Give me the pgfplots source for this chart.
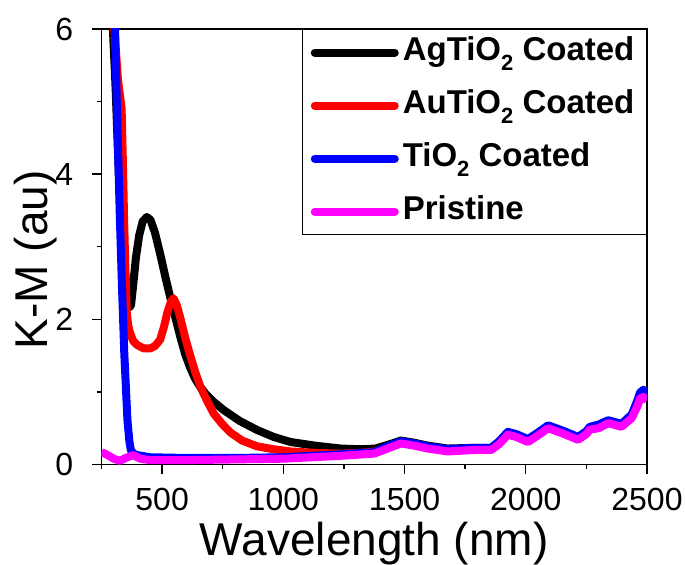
\documentclass[border=0pt]{standalone}
\usepackage{fontspec}
\setmainfont{Liberation Sans}
\usepackage{pgfplots}
\pgfplotsset{compat=1.18}
\usetikzlibrary{calc}
\definecolor{mag}{RGB}{255,0,255}
\newcommand{\sub}[1]{\raisebox{-0.55ex}{\fontsize{11}{11}\selectfont #1}}

% K-M spectra, values
\pgfplotstableread{
x y
250 11.0
280 7.5
297 6.0
308 5.2
318 4.3
328 3.5
340 2.85
350 2.50
360 2.25
366 2.17
372 2.20
380 2.45
392 2.85
405 3.15
420 3.35
437 3.41
452 3.37
470 3.20
490 2.93
513 2.59
533 2.31
555 2.02
575 1.76
595 1.52
615 1.34
635 1.19
655 1.08
680 0.97
710 0.87
754 0.75
820 0.60
892 0.475
960 0.38
1030 0.31
1130 0.26
1237 0.22
1320 0.21
1380 0.22
1430 0.27
1485 0.33
1540 0.30
1595 0.26
1678 0.22
1788 0.23
1857 0.23
1890 0.30
1926 0.44
1960 0.40
2009 0.33
2050 0.42
2092 0.52
2150 0.45
2216 0.36
2250 0.44
2264 0.50
2300 0.52
2340 0.59
2395 0.54
2437 0.66
2460 0.82
2471 0.93
2485 0.96
2500 0.92
}\agdata
\pgfplotstableread{
x y
250 12.0
285 8.0
303 6.0
318 5.3
333 4.90
338 4.2
343 3.4
348 2.75
354 2.10
360 1.92
368 1.81
381 1.70
396 1.65
423 1.60
451 1.60
470 1.63
492 1.72
508 1.90
522 2.10
537 2.25
547 2.29
560 2.20
575 2.02
595 1.75
616 1.50
637 1.27
658 1.07
685 0.88
713 0.70
750 0.55
782 0.44
830 0.33
892 0.25
960 0.21
1030 0.18
1130 0.16
1237 0.15
1320 0.16
1380 0.18
1430 0.24
1485 0.30
1540 0.27
1595 0.23
1678 0.19
1788 0.21
1857 0.21
1890 0.29
1926 0.42
1960 0.39
2009 0.32
2050 0.41
2092 0.51
2150 0.44
2216 0.35
2250 0.43
2264 0.49
2300 0.51
2340 0.58
2395 0.53
2437 0.65
2460 0.81
2471 0.92
2485 0.94
2500 0.90
}\audata
\pgfplotstableread{
x y
250 12.0
290 8.0
306 6.0
313 5.0
326 3.37
335 2.40
344 1.53
357 0.61
365 0.32
371 0.20
382 0.15
396 0.13
450 0.10
600 0.09
800 0.09
1000 0.10
1237 0.14
1375 0.17
1430 0.25
1485 0.32
1540 0.29
1595 0.25
1678 0.21
1788 0.23
1857 0.23
1890 0.32
1926 0.45
1960 0.42
2009 0.35
2050 0.44
2092 0.54
2150 0.47
2216 0.38
2250 0.46
2264 0.52
2300 0.55
2340 0.61
2395 0.56
2437 0.69
2460 0.88
2471 0.99
2485 1.03
2500 0.98
}\tidata
\pgfplotstableread{
x y
250 0.17
270 0.14
300 0.08
326 0.05
350 0.09
380 0.13
410 0.08
450 0.06
600 0.06
800 0.07
1000 0.08
1237 0.12
1375 0.15
1430 0.22
1485 0.29
1540 0.26
1595 0.22
1678 0.18
1788 0.20
1857 0.20
1890 0.28
1926 0.41
1960 0.38
2009 0.31
2050 0.40
2092 0.50
2150 0.43
2216 0.34
2250 0.42
2264 0.48
2300 0.50
2340 0.57
2395 0.52
2437 0.64
2460 0.80
2471 0.91
2485 0.93
2500 0.88
}\pristine

\begin{document}
\begin{tikzpicture}
\begin{axis}[
  scale only axis,
  width=272.75pt,height=217.75pt,
  xmin=250,xmax=2500,
  ymin=0,ymax=6,
  xtick={500,1000,1500,2000,2500},
  minor xtick={250,750,1250,1750,2250},
  ytick={0,2,4,6},
  minor ytick={1,3,5},
  tick align=outside,
  xtick pos=bottom,ytick pos=left,
  major tick length=4.5pt,
  minor tick length=2.25pt,
  axis line style={line width=0.7pt},
  tick style={line width=0.7pt,black},
  /pgf/number format/assume math mode=true,
  /pgf/number format/1000 sep={},
  tick label style={font=\fontsize{16}{18}\selectfont},
  xticklabel style={anchor=base,yshift=-18.5pt},
  yticklabel style={anchor=east,inner sep=0pt,xshift=-9.5pt},
  xlabel={Wavelength (nm)},
  ylabel={K-M (au)},
  label style={font=\fontsize{23}{26}\selectfont},
  xlabel style={at={(axis description cs:0.5,-0.209)},anchor=base},
  ylabel style={at={(axis description cs:-0.121,0.47)},anchor=center},
  legend cell align={left},
  legend style={at={(rel axis cs:1,1)},anchor=north east,draw=black,line width=0.6pt,
    font=\fontsize{16.5}{19}\selectfont\bfseries,inner xsep=4pt,inner ysep=1.5pt,
    row sep=6.5pt,nodes={text height=12pt,text depth=4pt},
    /tikz/every even column/.append style={column sep=1pt}},
  legend image code/.code={\draw[#1,line cap=round] (0pt,0pt) -- (40pt,0pt);},
  every axis plot/.append style={line width=4pt,line join=round},
]
\addplot[black] table {\agdata};
\addlegendentry{AgTiO\sub{2} Coated}
\addplot[red] table {\audata};
\addlegendentry{AuTiO\sub{2} Coated}
\addplot[blue] table {\tidata};
\addlegendentry{TiO\sub{2} Coated}
\addplot[mag] table {\pristine};
\addlegendentry{Pristine}
\coordinate (ll) at (rel axis cs:0,0);
\coordinate (ur) at (rel axis cs:1,1);
\end{axis}
\pgfresetboundingbox
\useasboundingbox ($(ll)+(-50.75pt,-49.75pt)$) rectangle ($(ur)+(19pt,14.5pt)$);
\end{tikzpicture}
\end{document}
